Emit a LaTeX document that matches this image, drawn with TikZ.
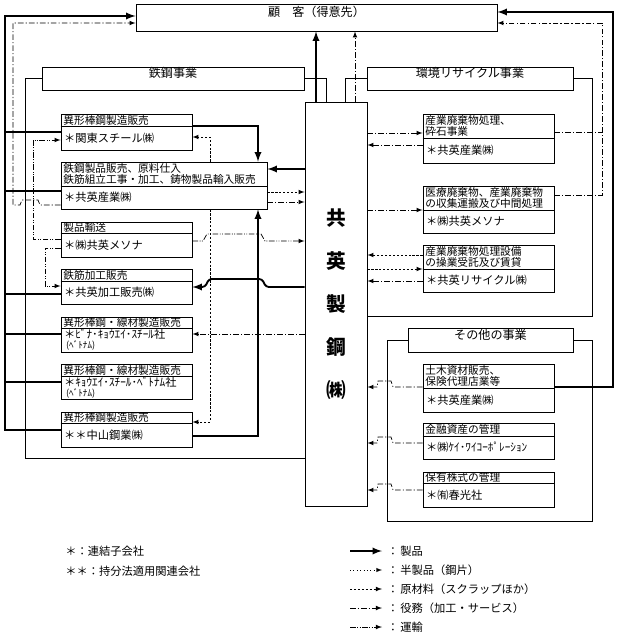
\documentclass[tikz,border=0pt]{standalone}
\usepackage{fontspec}
\setmainfont{Noto Sans CJK JP}
\usetikzlibrary{fit}
\begin{document}
\begin{tikzpicture}[x=0.025cm,y=-0.025cm,>=latex,
    box/.style={draw,line width=0.6pt,inner sep=0pt},
    hd/.style={anchor=west,inner sep=1.5pt,align=left,font=\fontsize{7.6}{8.3}\selectfont},
    bd/.style={anchor=west,inner sep=2pt,align=left,font=\fontsize{8}{9}\selectfont},
    ttl/.style={font=\fontsize{8.6}{9}\selectfont},
    prod/.style={line width=1.3pt},
    semi/.style={line width=0.4pt,dotted},
    rawm/.style={line width=0.5pt,dash pattern=on 1.6pt off 1.2pt},
    serv/.style={line width=0.5pt,dash pattern=on 4pt off 1.5pt on 0.8pt off 1.5pt},
    trnsp/.style={line width=0.5pt,dash pattern=on 4pt off 1.2pt on 0.6pt off 1pt on 0.6pt off 1.2pt}]
        \useasboundingbox (0,0) rectangle (620,636);

        \node[box,ttl,fit={(136,4) (497,31)}] (cust) {顧　客（得意先）};
        \node[box,ttl,fit={(42,67) (304,90)}] (steelt) {鉄鋼事業};
        \node[box,ttl,fit={(367,67) (573,90)}] (envt) {環境リサイクル事業};
        \node[box,ttl,fit={(408,328) (573,352)}] (othert) {その他の事業};
        \node[box,fit={(305,102) (367,506)}] (kyoei) {};
        \node[align=center,font=\fontsize{14}{30.5}\selectfont\bfseries] (kyoeit) at (kyoei.center) {共\\英\\製\\鋼\\㈱};

        \draw[line width=0.6pt] (steelt.east) -| (kyoei.north -| 326,0);
        \draw[line width=0.6pt] (steelt.west) -| (25,458) -- (kyoei.west |- 0,458);
        \draw[line width=0.6pt] (envt.west) -| (kyoei.north -| 345,0);
        \draw[line width=0.6pt] (envt.east) -| (592,316) -- (kyoei.east |- 0,316);
        \draw[line width=0.6pt] (othert.west) -| (387,521) -| (592,340) -- (othert.east);

        \node[box,fit={(61,114) (192,150)}] (kanto) {};
        \draw[line width=0.6pt] (kanto.west |- 0,126) -- (kanto.east |- 0,126);
        \node[hd] (kantoh) at (61,120) {異形棒鋼製造販売};
        \node[bd] (kantob) at (61,138) {＊関東スチール㈱};

        \node[box,fit={(61,162) (267,209)}] (kyosan) {};
        \draw[line width=0.6pt] (kyosan.west |- 0,186) -- (kyosan.east |- 0,186);
        \node[hd] (kyosanh) at (61,174) {鉄鋼製品販売、原料仕入\\鉄筋組立工事・加工、鋳物製品輸入販売};
        \node[bd] (kyosanb) at (61,197.5) {＊共英産業㈱};

        \node[box,fit={(61,222) (192,257)}] (meso) {};
        \draw[line width=0.6pt] (meso.west |- 0,233) -- (meso.east |- 0,233);
        \node[hd] (mesoh) at (61,227.5) {製品輸送};
        \node[bd] (mesob) at (61,245) {＊㈱共英メソナ};

        \node[box,fit={(61,269) (192,304)}] (kakou) {};
        \draw[line width=0.6pt] (kakou.west |- 0,281) -- (kakou.east |- 0,281);
        \node[hd] (kakouh) at (61,275) {鉄筋加工販売};
        \node[bd] (kakoub) at (61,292.5) {＊共英加工販売㈱};

        \node[box,fit={(61,317) (192,352)}] (vina) {};
        \draw[line width=0.6pt] (vina.west |- 0,328) -- (vina.east |- 0,328);
        \node[hd] (vinah) at (61,322.5) {異形棒鋼・線材製造販売};
        \node[bd] (vinab) at (61,340) {＊ﾋﾞﾅ･ｷｮｳｴｲ･ｽﾁｰﾙ社\\[-2pt]{\fontsize{6.5}{7}\selectfont\ (ﾍﾞﾄﾅﾑ)}};

        \node[box,fit={(61,364) (192,399)}] (kvn) {};
        \draw[line width=0.6pt] (kvn.west |- 0,376) -- (kvn.east |- 0,376);
        \node[hd] (kvnh) at (61,370) {異形棒鋼・線材製造販売};
        \node[bd] (kvnb) at (61,387.5) {＊ｷｮｳｴｲ･ｽﾁｰﾙ･ﾍﾞﾄﾅﾑ社\\[-2pt]{\fontsize{6.5}{7}\selectfont\ (ﾍﾞﾄﾅﾑ)}};

        \node[box,fit={(61,412) (192,447)}] (naka) {};
        \draw[line width=0.6pt] (naka.west |- 0,423) -- (naka.east |- 0,423);
        \node[hd] (nakah) at (61,417.5) {異形棒鋼製造販売};
        \node[bd] (nakab) at (61,435) {＊＊中山鋼業㈱};

        \node[box,fit={(423,114) (554,163)}] (haiki) {};
        \draw[line width=0.6pt] (haiki.west |- 0,138) -- (haiki.east |- 0,138);
        \node[hd] (haikih) at (423,126) {産業廃棄物処理、\\砕石事業};
        \node[bd] (haikib) at (423,150.5) {＊共英産業㈱};

        \node[box,fit={(423,186) (554,233)}] (iryo) {};
        \draw[line width=0.6pt] (iryo.west |- 0,210) -- (iryo.east |- 0,210);
        \node[hd] (iryoh) at (423,198) {医療廃棄物、産業廃棄物\\の収集運搬及び中間処理};
        \node[bd] (iryob) at (423,221.5) {＊㈱共英メソナ};

        \node[box,fit={(423,245) (554,292)}] (setsubi) {};
        \draw[line width=0.6pt] (setsubi.west |- 0,269) -- (setsubi.east |- 0,269);
        \node[hd] (setsubih) at (423,257) {産業廃棄物処理設備\\の操業受託及び賃貸};
        \node[bd] (setsubib) at (423,280.5) {＊共英リサイクル㈱};

        \node[box,fit={(423,364) (554,412)}] (doboku) {};
        \draw[line width=0.6pt] (doboku.west |- 0,388) -- (doboku.east |- 0,388);
        \node[hd] (dobokuh) at (423,376) {土木資材販売、\\保険代理店業等};
        \node[bd] (dobokub) at (423,400) {＊共英産業㈱};

        \node[box,fit={(423,423) (554,459)}] (kyc) {};
        \draw[line width=0.6pt] (kyc.west |- 0,436) -- (kyc.east |- 0,436);
        \node[hd] (kych) at (423,429.5) {金融資産の管理};
        \node[bd] (kycb) at (423,447.5) {＊㈱ｹｲ･ﾜｲｺｰﾎﾟﾚｰｼｮﾝ};

        \node[box,fit={(423,472) (554,507)}] (shunko) {};
        \draw[line width=0.6pt] (shunko.west |- 0,483) -- (shunko.east |- 0,483);
        \node[hd] (shunkoh) at (423,477.5) {保有株式の管理};
        \node[bd] (shunkob) at (423,495) {＊㈲春光社};

        \draw[prod,->] (kyoei.north -| 316,0) -- (cust.south -| 316,0);
        \draw[serv,->] (kyoei.north -| 355,0) -- (cust.south -| 355,0);

        \draw[prod,->] (naka.west |- 0,430) -| (5,16) -- (cust.west |- 0,16);
        \draw[prod] (kanto.west |- 0,132) -- (5,132);
        \draw[prod] (kyosan.west |- 0,191) -- (5,191);
        \draw[prod] (kakou.west |- 0,294) -- (5,294);
        \draw[prod] (vina.west |- 0,334) -- (5,334);
        \draw[prod] (kvn.west |- 0,382) -- (5,382);
        \draw[serv,->] (kyosan.west |- 0,205) -- (40,205) -- (38,200) -- (22,200) -- (20,205) -- (13,205) -- (13,23) -- (cust.west |- 0,23);

        \draw[trnsp,->] (meso.west |- 0,239) -| (33,140) -- (kanto.west |- 0,140);
        \draw[trnsp,->] (meso.west |- 0,248) -| (45,286) -- (kakou.west |- 0,286);
        \draw[trnsp,->] (meso.east |- 0,241) -- (203,241) -- (207,234) -- (261,234) -- (265,241) -- (kyoei.west |- 0,241);

        \draw[rawm,->] (kyosan.north -| 210,0) |- (kanto.east |- 0,137);
        \draw[rawm,->] (kyosan.south -| 210,0) |- (naka.east |- 0,422);
        \draw[prod,->] (kanto.east |- 0,126) -| (kyosan.north -| 258,0);
        \draw[prod,->] (naka.east |- 0,436) -| (kyosan.south -| 258,0);
        \draw[prod,->] (kyoei.west |- 0,169) -- (kyosan.east |- 0,169);
        \draw[rawm,->] (kyosan.east |- 0,192) -- (kyoei.west |- 0,192);
        \draw[serv,->] (kyosan.east |- 0,202) -- (kyoei.west |- 0,202);
        \draw[prod,->,rounded corners=2pt] (kyoei.west |- 0,287) -- (266,287) -- (262,279) -- (209,279) -- (205,287) -- (kakou.east |- 0,287);
        \draw[serv,->] (kyoei.west |- 0,334) -- (vina.east |- 0,334);

        \draw[serv,->] (kyoei.east |- 0,133) -- (haiki.west |- 0,133);
        \draw[serv,->] (haiki.west |- 0,145) -- (kyoei.east |- 0,145);
        \draw[serv,->] (kyoei.east |- 0,210) -- (iryo.west |- 0,210);
        \draw[rawm,->] (setsubi.west |- 0,255) -- (kyoei.east |- 0,255);
        \draw[rawm,->] (kyoei.east |- 0,269) -- (setsubi.west |- 0,269);
        \draw[serv,->] (setsubi.west |- 0,281) -- (kyoei.east |- 0,281);

        \draw[prod,->] (doboku.east |- 0,387) -| (613,12) -- (cust.east |- 0,12);
        \draw[serv,->] (iryo.east |- 0,195) -| (602,23) -- (cust.east |- 0,23);
        \draw[serv] (haiki.east |- 0,132) -- (602,132);

        \draw[serv,->] (doboku.west |- 0,387) -- (393,387) -- (391,381) -- (378,381) -- (377,387) -- (kyoei.east |- 0,387);
        \draw[serv,->] (kyc.west |- 0,443) -- (393,443) -- (391,437) -- (378,437) -- (377,443) -- (kyoei.east |- 0,443);
        \draw[serv,->] (shunko.west |- 0,490) -- (393,490) -- (391,484) -- (378,484) -- (377,490) -- (kyoei.east |- 0,490);

        \node[bd,inner sep=0pt] (note1) at (65,551) {＊：連結子会社};
        \node[bd,inner sep=0pt] (note2) at (65,571) {＊＊：持分法適用関連会社};

        \coordinate (lg1a) at (350,551); \coordinate (lg1b) at (382,551);
        \coordinate (lg2a) at (350,570); \coordinate (lg2b) at (382,570);
        \coordinate (lg3a) at (350,589); \coordinate (lg3b) at (382,589);
        \coordinate (lg4a) at (350,608); \coordinate (lg4b) at (382,608);
        \coordinate (lg5a) at (350,627); \coordinate (lg5b) at (382,627);
        \draw[prod,->] (lg1a) -- (lg1b);
        \draw[semi,->] (lg2a) -- (lg2b);
        \draw[rawm,->] (lg3a) -- (lg3b);
        \draw[serv,->] (lg4a) -- (lg4b);
        \draw[trnsp,->] (lg5a) -- (lg5b);
        \node[bd,inner sep=0pt] (lg1t) at (387,551) {：\,製品};
        \node[bd,inner sep=0pt] (lg2t) at (387,570) {：\,半製品（鋼片）};
        \node[bd,inner sep=0pt] (lg3t) at (387,589) {：\,原材料（スクラップほか）};
        \node[bd,inner sep=0pt] (lg4t) at (387,608) {：\,役務（加工・サービス）};
        \node[bd,inner sep=0pt] (lg5t) at (387,627) {：\,運輸};
    \end{tikzpicture}
\end{document}
